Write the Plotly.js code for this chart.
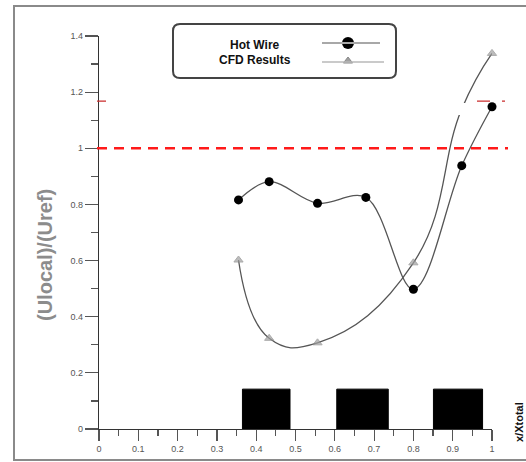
<!DOCTYPE html>
<html>
<head>
<meta charset="utf-8">
<script src="https://cdn.plot.ly/plotly-3.0.1.min.js"></script>
<style>html,body{margin:0;padding:0;background:#fff;}#chart{width:526px;height:462px;}</style>
</head>
<body>
<div id="chart"></div>
<script>
// ---- data ----
const hotWireX = [0.355, 0.433, 0.556, 0.679, 0.800, 0.923, 1.000];
const hotWireY = [0.816, 0.881, 0.804, 0.825, 0.498, 0.938, 1.148];
const cfdX = [0.355, 0.433, 0.556, 0.800, 0.923, 1.000];
const cfdY = [0.602, 0.323, 0.307, 0.592, 1.140, 1.338];
const cfdMarkerShown = [true, true, true, true, false, true];
const blockStart = [0.365, 0.605, 0.851];
const blockEnd = [0.486, 0.736, 0.976];
const blockHeight = [0.142, 0.142, 0.142];
const refLevel = 1.0;
const refLevel2 = 1.168;
const xTickVals = [0, 0.1, 0.2, 0.3, 0.4, 0.5, 0.6, 0.7, 0.8, 0.9, 1];
const xTickText = ['0', '0.1', '0.2', '0.3', '0.4', '0.5', '0.6', '0.7', '0.8', '0.9', '1'];
const yTickVals = [0, 0.2, 0.4, 0.6, 0.8, 1, 1.2, 1.4];
const yTickText = ['0', '0.2', '0.4', '0.6', '0.8', '1', '1.2', '1.4'];
const seriesNames = ['Hot Wire', 'CFD Results'];
const yTitle = '(Ulocal)/(Uref)';
const xTitle = 'x/Xtotal';

// ---- layout helpers (pixel -> paper) ----
const L = 99, T = 36, W = 393, H = 393;
const px = v => (v - L) / W;
const py = v => (T + H - v) / H;
const FONT = 'Arial, "Liberation Sans", sans-serif';

function roundRect(x0, y0, x1, y1, r) {
  const P = (x, y) => px(x) + ',' + py(y);
  return 'M' + P(x0 + r, y0) + ' L' + P(x1 - r, y0) + ' Q' + P(x1, y0) + ' ' + P(x1, y0 + r) +
    ' L' + P(x1, y1 - r) + ' Q' + P(x1, y1) + ' ' + P(x1 - r, y1) +
    ' L' + P(x0 + r, y1) + ' Q' + P(x0, y1) + ' ' + P(x0, y1 - r) +
    ' L' + P(x0, y0 + r) + ' Q' + P(x0, y0) + ' ' + P(x0 + r, y0) + ' Z';
}

const traces = [
  {
    x: hotWireX, y: hotWireY, name: seriesNames[0], type: 'scatter', mode: 'lines+markers',
    line: {shape: 'spline', smoothing: 1, color: '#555', width: 1.3},
    marker: {symbol: 'circle', size: 9, color: '#000'},
    cliponaxis: false, showlegend: false
  },
  {
    x: cfdX, y: cfdY, name: seriesNames[1], type: 'scatter', mode: 'lines+markers',
    line: {shape: 'spline', smoothing: 1.3, color: '#555', width: 1.3},
    marker: {symbol: 'triangle-up', size: cfdMarkerShown.map(s => s ? 8 : 0), color: '#a0a0a0', line: {color: '#888', width: 1}},
    cliponaxis: false, showlegend: false
  },
  // legend swatches (pixel-space overlay axes)
  {
    x: [348], y: [43], xaxis: 'x2', yaxis: 'y2', type: 'scatter', mode: 'markers',
    marker: {symbol: 'circle', size: 12, color: '#000'}, cliponaxis: false, showlegend: false, hoverinfo: 'skip'
  },
  {
    x: [348], y: [61], xaxis: 'x2', yaxis: 'y2', type: 'scatter', mode: 'markers',
    marker: {symbol: 'triangle-up', size: 8, color: '#a0a0a0', line: {color: '#888', width: 1}}, cliponaxis: false, showlegend: false, hoverinfo: 'skip'
  }
];

const shapes = [];
// outer frame
shapes.push({type: 'rect', xref: 'paper', yref: 'paper', x0: px(14), x1: px(545), y0: py(6), y1: py(460),
  line: {color: '#8a8a8a', width: 2}, layer: 'below'});
// black blocks
for (let i = 0; i < blockStart.length; i++) {
  shapes.push({type: 'rect', xref: 'x', yref: 'y', x0: blockStart[i], x1: blockEnd[i], y0: 0, y1: blockHeight[i],
    fillcolor: '#000', line: {color: '#000', width: 1}, layer: 'below'});
}
// red dashed reference
shapes.push({type: 'line', xref: 'paper', yref: 'y', x0: px(97), x1: px(508), y0: refLevel, y1: refLevel,
  line: {color: '#ff1a1a', width: 2.5, dash: '10px,7px'}});
// short red marks at second level
shapes.push({type: 'line', xref: 'paper', yref: 'y', x0: px(97), x1: px(106), y0: refLevel2, y1: refLevel2,
  line: {color: '#cc3333', width: 1.3}});
shapes.push({type: 'line', xref: 'paper', yref: 'y', x0: px(477), x1: px(490), y0: refLevel2, y1: refLevel2,
  line: {color: '#cc3333', width: 1.3}});
shapes.push({type: 'line', xref: 'paper', yref: 'y', x0: px(502), x1: px(505), y0: refLevel2, y1: refLevel2,
  line: {color: '#cc3333', width: 1.3}});
// small white gap in the CFD curve (as in the source image)
shapes.push({type: 'rect', xref: 'paper', yref: 'paper', x0: px(455), x1: px(469), y0: py(115), y1: py(103),
  fillcolor: '#fff', line: {width: 0}});
// legend box
shapes.push({type: 'path', xref: 'paper', yref: 'paper', path: roundRect(173, 24, 396, 78, 7),
  fillcolor: '#fff', line: {color: '#444', width: 2}, layer: 'below'});
shapes.push({type: 'line', xref: 'paper', yref: 'paper', x0: px(322), x1: px(380), y0: py(43), y1: py(43),
  line: {color: '#a8a8a8', width: 2}});
shapes.push({type: 'line', xref: 'paper', yref: 'paper', x0: px(322), x1: px(384), y0: py(62), y1: py(62),
  line: {color: '#b8b8b8', width: 1.5}});

const annotations = [
  {text: '<b>' + seriesNames[0] + '</b>', xref: 'paper', yref: 'paper', x: px(255), y: py(44.5), showarrow: false,
    font: {family: FONT, size: 12, color: '#111'}, xanchor: 'center', yanchor: 'middle'},
  {text: '<b>' + seriesNames[1] + '</b>', xref: 'paper', yref: 'paper', x: px(255), y: py(60), showarrow: false,
    font: {family: FONT, size: 12, color: '#111'}, xanchor: 'center', yanchor: 'middle'},
  {text: '<b>' + yTitle + '</b>', xref: 'paper', yref: 'paper', x: px(45), y: py(255), showarrow: false, textangle: -90,
    font: {family: FONT, size: 20, color: '#8c8c8c'}, xanchor: 'center', yanchor: 'middle'},
  {text: '<b>' + xTitle + '</b>', xref: 'paper', yref: 'paper', x: px(519), y: py(422), showarrow: false, textangle: -90,
    font: {family: FONT, size: 11, color: '#111'}, xanchor: 'center', yanchor: 'middle'}
];

const layout = {
  width: 526, height: 462,
  margin: {l: L, r: 526 - L - W, t: T, b: 462 - T - H, pad: 0},
  paper_bgcolor: '#fff', plot_bgcolor: 'rgba(0,0,0,0)',
  showlegend: false,
  font: {family: FONT, size: 9, color: '#555'},
  xaxis: {
    range: [0, 1], showgrid: false, zeroline: false, showline: true, linecolor: '#333', linewidth: 1.2,
    ticks: 'outside', ticklen: 11, tickwidth: 1.2, tickcolor: '#555',
    tickmode: 'array', tickvals: xTickVals, ticktext: xTickText,
    tickfont: {family: FONT, size: 9, color: '#555'},
    minor: {dtick: 0.05, tick0: 0, ticks: 'outside', ticklen: 6, tickwidth: 1.2, tickcolor: '#555', showgrid: false},
    fixedrange: true
  },
  yaxis: {
    range: [0, 1.4], showgrid: false, zeroline: false, showline: true, linecolor: '#333', linewidth: 1.2,
    ticks: 'outside', ticklen: 13, tickwidth: 1.2, tickcolor: '#555',
    tickmode: 'array', tickvals: yTickVals, ticktext: yTickText,
    tickfont: {family: FONT, size: 9, color: '#555'},
    minor: {dtick: 0.1, tick0: 0, ticks: 'outside', ticklen: 7, tickwidth: 1.2, tickcolor: '#555', showgrid: false},
    fixedrange: true
  },
  xaxis2: {overlaying: 'x', range: [L, L + W], visible: false, fixedrange: true},
  yaxis2: {overlaying: 'y', range: [T + H, T], visible: false, fixedrange: true},
  shapes: shapes,
  annotations: annotations
};

Plotly.newPlot('chart', traces, layout, {staticPlot: true, displayModeBar: false});
</script>
</body>
</html>
